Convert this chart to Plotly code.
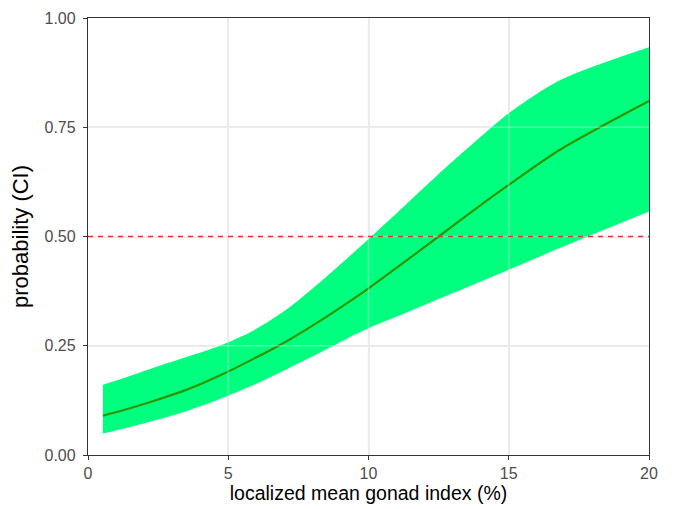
import plotly.graph_objects as go

# data
gonad_index = [0.53, 1.5, 2.5, 3.5, 4.7, 5.9, 7.1, 8.3, 9.5, 10.1, 11.25, 12.5, 14.0, 15.0, 16.84, 20.0]
prob_fit    = [0.090, 0.107, 0.127, 0.149, 0.182, 0.220, 0.261, 0.308, 0.359, 0.386, 0.440, 0.500, 0.572, 0.618, 0.699, 0.810]
ci_upper    = [0.161, 0.181, 0.203, 0.224, 0.250, 0.285, 0.334, 0.397, 0.465, 0.500, 0.568, 0.643, 0.728, 0.782, 0.858, 0.933]
ci_lower    = [0.049, 0.064, 0.081, 0.100, 0.128, 0.160, 0.197, 0.235, 0.275, 0.293, 0.323, 0.357, 0.397, 0.424, 0.474, 0.557]
threshold = 0.5
x_ticks = [0, 5, 10, 15, 20]
y_ticks = [0, 0.25, 0.5, 0.75, 1.0]
y_ticklabels = ["0.00", "0.25", "0.50", "0.75", "1.00"]

FONT = "Liberation Sans, Arial, sans-serif"

fig = go.Figure()
fig.add_trace(go.Scatter(
    x=gonad_index, y=ci_lower, mode="lines",
    line=dict(width=0, shape="spline", smoothing=0.8),
    hoverinfo="skip", showlegend=False,
))
fig.add_trace(go.Scatter(
    x=gonad_index, y=ci_upper, mode="lines", fill="tonexty", fillcolor="#00FF7F",
    line=dict(width=0, shape="spline", smoothing=0.8),
    hoverinfo="skip", showlegend=False,
))
fig.add_trace(go.Scatter(
    x=gonad_index, y=prob_fit, mode="lines",
    line=dict(color="#2E9600", width=2.2, shape="spline", smoothing=0.8),
    showlegend=False,
))

# grid drawn faintly on top of the ribbon (as in the reference)
for xv in x_ticks[1:-1]:
    fig.add_shape(type="line", xref="x", yref="paper", x0=xv, x1=xv, y0=0, y1=1,
                  line=dict(color="rgba(235,235,235,0.35)", width=1.6), layer="above")
for yv in y_ticks[1:-1]:
    fig.add_shape(type="line", xref="paper", yref="y", x0=0, x1=1, y0=yv, y1=yv,
                  line=dict(color="rgba(235,235,235,0.35)", width=1.6), layer="above")

fig.add_shape(type="line", xref="paper", yref="y", x0=0, x1=1, y0=threshold, y1=threshold,
              line=dict(color="#F03030", width=1.3, dash="5px,5px"), layer="above")

axis_common = dict(
    showline=True, linecolor="#333333", linewidth=1.3, mirror=True,
    ticks="outside", ticklen=4, tickcolor="#333333", tickwidth=1.1,
    showgrid=True, gridcolor="#EBEBEB", gridwidth=1.6,
    zeroline=False, automargin=False,
    tickfont=dict(family=FONT, size=16, color="#4D4D4D"),
)

fig.update_layout(
    width=674, height=509,
    # the page body adds an 8px offset; margins compensate so the panel lands where the reference has it
    margin=dict(l=80, r=33, t=10, b=62),
    paper_bgcolor="white", plot_bgcolor="white",
    template="none",
    font=dict(family=FONT),
    xaxis=dict(range=[0, 20], tickvals=x_ticks, ticktext=[str(v) for v in x_ticks],
               title=dict(text="localized mean gonad index (%)",
                          font=dict(family=FONT, size=19.5, color="black"), standoff=4),
               **axis_common),
    yaxis=dict(range=[0, 1], tickvals=y_ticks, ticktext=y_ticklabels, ticklabelstandoff=4,
               title=dict(text="probability (CI)",
                          font=dict(family=FONT, size=22, color="black"), standoff=12),
               **axis_common),
)

fig.write_html("out.html")
